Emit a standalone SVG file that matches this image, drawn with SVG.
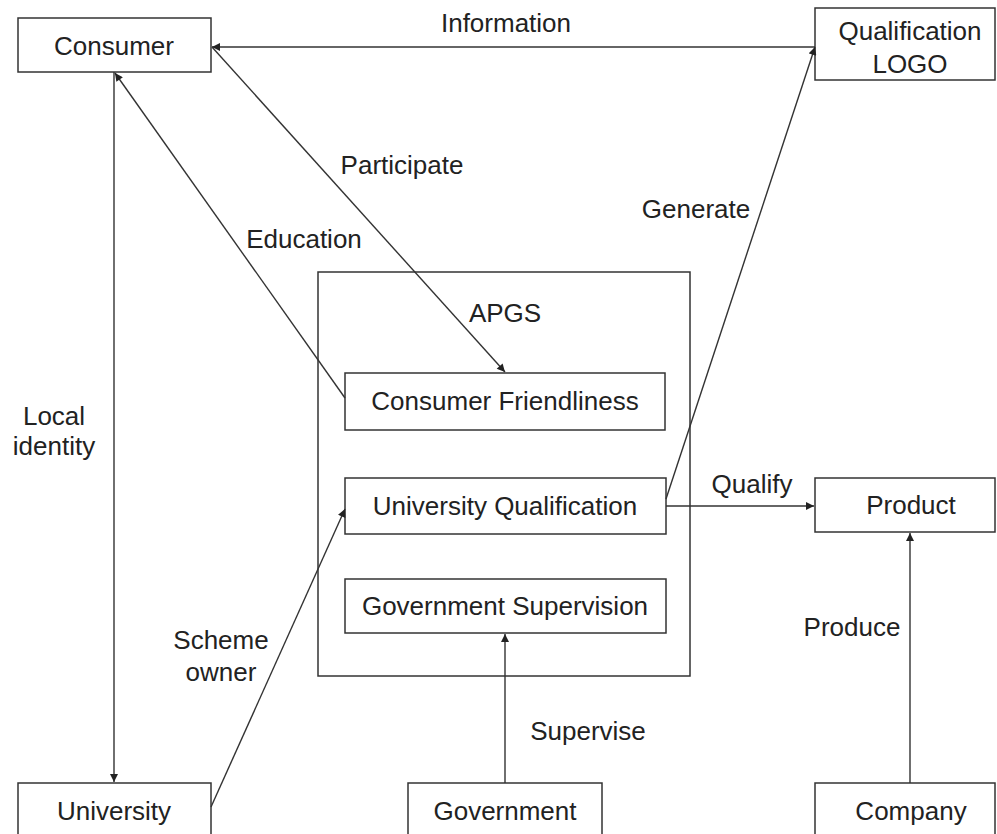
<svg xmlns="http://www.w3.org/2000/svg" width="997" height="834" viewBox="0 0 997 834">
<style>
  .box { fill: #ffffff; stroke: #333333; stroke-width: 1.5; }
  .lbl { font-family: "Liberation Sans", Arial, sans-serif; font-size: 26px; fill: #222222; text-anchor: middle; }
  .edge { stroke: #333333; stroke-width: 1.4; fill: none; marker-end: url(#arr); }
</style>
<defs>
  <marker id="arr" viewBox="0 0 10 10" refX="10" refY="5" markerWidth="9" markerHeight="8" markerUnits="userSpaceOnUse" orient="auto">
    <path d="M0,0 L10,5 L0,10 z" fill="#222222"/>
  </marker>
</defs>
<rect width="997" height="834" fill="#ffffff"/>

<g id="apgs">
  <rect class="box" x="318" y="272" width="372" height="404"/>
  <text class="lbl" x="505" y="322">APGS</text>
</g>

<g id="consumer">
  <rect class="box" x="18" y="18" width="193" height="54"/>
  <text class="lbl" x="114" y="55">Consumer</text>
</g>
<g id="qualification-logo">
  <rect class="box" x="815" y="8" width="180" height="72"/>
  <text class="lbl" x="910" y="40">Qualification</text>
  <text class="lbl" x="910" y="73">LOGO</text>
</g>
<g id="consumer-friendliness">
  <rect class="box" x="345" y="373" width="320" height="57"/>
  <text class="lbl" x="505" y="410">Consumer Friendliness</text>
</g>
<g id="university-qualification">
  <rect class="box" x="345" y="478" width="321" height="56"/>
  <text class="lbl" x="505" y="515">University Qualification</text>
</g>
<g id="government-supervision">
  <rect class="box" x="345" y="579" width="321" height="54"/>
  <text class="lbl" x="505" y="615">Government Supervision</text>
</g>
<g id="product">
  <rect class="box" x="815" y="478" width="180" height="54"/>
  <text class="lbl" x="911" y="514">Product</text>
</g>
<g id="university">
  <rect class="box" x="18" y="783" width="193" height="80"/>
  <text class="lbl" x="114" y="820">University</text>
</g>
<g id="government">
  <rect class="box" x="408" y="783" width="194" height="80"/>
  <text class="lbl" x="505" y="820">Government</text>
</g>
<g id="company">
  <rect class="box" x="815" y="783" width="180" height="80"/>
  <text class="lbl" x="911" y="820">Company</text>
</g>

<g id="connectors">
  <line class="edge" x1="815" y1="47" x2="212" y2="47"/>
  <line class="edge" x1="212" y1="47" x2="505" y2="372"/>
  <line class="edge" x1="345" y1="398" x2="115" y2="73"/>
  <line class="edge" x1="114" y1="72" x2="114" y2="782"/>
  <line class="edge" x1="666" y1="499" x2="815" y2="47"/>
  <line class="edge" x1="666" y1="506" x2="814" y2="506"/>
  <line class="edge" x1="211" y1="807" x2="345" y2="509"/>
  <line class="edge" x1="505" y1="783" x2="505" y2="634"/>
  <line class="edge" x1="910" y1="783" x2="910" y2="533"/>
</g>

<g id="edge-labels">
  <text class="lbl" x="506" y="32">Information</text>
  <text class="lbl" x="402" y="174">Participate</text>
  <text class="lbl" x="304" y="248">Education</text>
  <text class="lbl" x="696" y="218">Generate</text>
  <text class="lbl" x="54" y="425">Local</text>
  <text class="lbl" x="54" y="455">identity</text>
  <text class="lbl" x="752" y="493">Qualify</text>
  <text class="lbl" x="221" y="649">Scheme</text>
  <text class="lbl" x="221" y="681">owner</text>
  <text class="lbl" x="588" y="740">Supervise</text>
  <text class="lbl" x="852" y="636">Produce</text>
</g>
</svg>
